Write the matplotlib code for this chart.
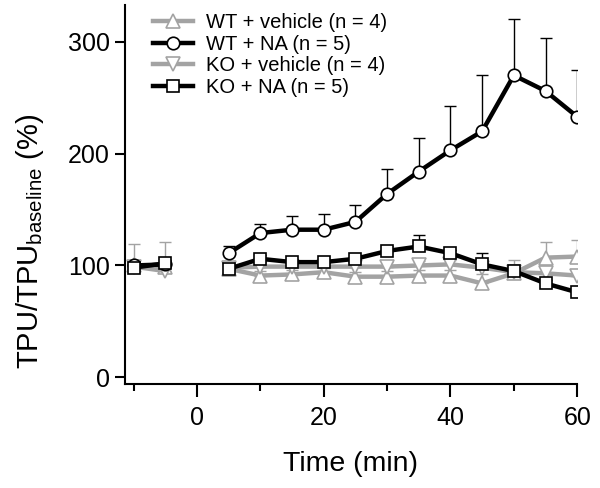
import numpy as np
import matplotlib
matplotlib.use("Agg")
import matplotlib.pyplot as plt

plt.rcParams['font.family'] = ['Liberation Sans', 'DejaVu Sans']
plt.rcParams['mathtext.fontset'] = 'custom'
plt.rcParams['mathtext.rm'] = 'Liberation Sans'

time = [-10, -5, 5, 10, 15, 20, 25, 30, 35, 40, 45, 50, 55, 60]

wt_veh = [100, 99, 97, 91, 92, 94, 90, 90, 91, 91, 84, 93, 107, 108]
wt_veh_err = [19, 6, 4, 4, 4, 4, 4, 5, 5, 5, 8, 6, 14, 15]

wt_na = [100, 101, 111, 129, 132, 132, 139, 164, 184, 203, 220, 270, 256, 233]
wt_na_err = [3, 3, 6, 8, 12, 14, 15, 22, 30, 40, 50, 50, 47, 42]

ko_veh = [99, 95, 98, 99, 99, 99, 99, 99, 100, 101, 98, 94, 93, 91]
ko_veh_err = [5, 26, 3, 3, 3, 3, 8, 4, 4, 4, 4, 11, 5, 4]

ko_na = [98, 102, 97, 106, 103, 103, 106, 113, 117, 111, 101, 95, 84, 76]
ko_na_err = [3, 3, 3, 3, 3, 3, 3, 4, 10, 3, 10, 3, 3, 3]

labels = ["WT + vehicle (n = 4)", "WT + NA (n = 5)", "KO + vehicle (n = 4)", "KO + NA (n = 5)"]
yticks = [0, 100, 200, 300]
xticks = [0, 20, 40, 60]
xminor = [-10, 10, 30, 50]

fig = plt.figure(figsize=(6, 4.88), dpi=100)
ax = fig.add_axes([0.208, 0.213, 0.754, 0.777])

gray = '#a3a3a3'
series = [
    (wt_veh, wt_veh_err, gray, '^', 10, 2),
    (ko_veh, ko_veh_err, gray, 'v', 10, 2),
    (wt_na, wt_na_err, 'black', 'o', 9, 4),
    (ko_na, ko_na_err, 'black', 's', 9, 5),
]
order_labels = [labels[0], labels[2], labels[1], labels[3]]
handles = {}
t = np.array(time, dtype=float)
pre = t < 0
post = t > 0
for (vals, err, col, mk, ms, z), lab in zip(series, order_labels):
    v = np.array(vals, dtype=float)
    e = np.array(err, dtype=float)
    ax.errorbar(t, v, yerr=[np.zeros_like(e), e], fmt='none', ecolor=col,
                elinewidth=1.0, capsize=4, capthick=1.0, zorder=z - 0.5)
    for m in (pre, post):
        h, = ax.plot(t[m], v[m], color=col, lw=3.2, marker=mk, ms=ms, mfc='white',
                     mec=col, mew=1.2, zorder=z, label=lab)
    handles[lab] = h

ax.set_xlim(-11.4, 60)
ax.set_ylim(-6, 333)
ax.set_xticks(xticks)
ax.set_xticks(xminor, minor=True)
ax.set_yticks(yticks)
for s in ['top', 'right']:
    ax.spines[s].set_visible(False)
for s in ['left', 'bottom']:
    ax.spines[s].set_linewidth(1.5)
ax.tick_params(axis='both', which='major', length=7, width=1.5, labelsize=18, direction='out')
ax.tick_params(axis='y', which='major', pad=4)
ax.tick_params(axis='x', which='major', length=9, pad=7)
ax.tick_params(axis='x', which='minor', length=5, width=1.5, direction='out')

ax.set_xlabel('Time (min)', fontsize=20.5, labelpad=15)
ax.set_ylabel(r'TPU/TPU$_{\mathregular{baseline}}$ (%)', fontsize=21)
ax.yaxis.set_label_coords(-0.175, 0.377)

leg = ax.legend([handles[l] for l in labels], labels, loc='upper left',
                bbox_to_anchor=(0.045, 1.0), frameon=False, fontsize=14.5,
                handlelength=2.0, handletextpad=0.6, labelspacing=0.13,
                borderaxespad=0)

fig.savefig('out.png', dpi=100)
